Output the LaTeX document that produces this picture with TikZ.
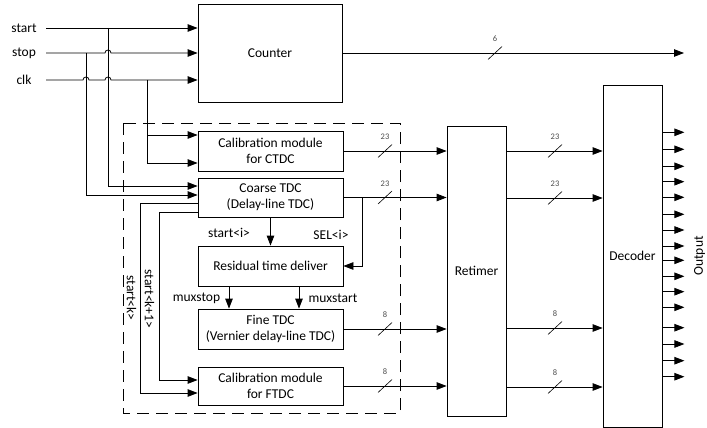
\documentclass[tikz,border=0pt]{standalone}
\usepackage{fontspec}
\setmainfont{Carlito}
\usetikzlibrary{arrows.meta}
\newcommand\busmark[3]{%
  \draw[line width=0.6pt] (#1-7,#2+6.5) -- (#1+7,#2-6.5);
  \node[buslbl] at (#1,#2-14) {#3};}
\begin{document}
\begin{tikzpicture}[x=1pt,y=-1pt,line width=0.8pt,
  blk/.style={draw, inner sep=0pt, align=center, font=\fontsize{13.5}{16}\selectfont},
  lbl/.style={inner sep=0pt, font=\fontsize{13.5}{16}\selectfont},
  buslbl/.style={inner sep=0pt, font=\fontsize{8.5}{10}\selectfont, text=black!70},
  arr/.style={-{Triangle[length=10pt,width=7.5pt]}}]
\useasboundingbox (0,0) rectangle (707,428);

% blocks
\node[blk, minimum width=144pt, minimum height=98pt] (counter) at (270,53) {Counter};
\node[blk, minimum width=145pt, minimum height=40pt] (calc) at (270.5,151) {Calibration module\\for CTDC};
\node[blk, minimum width=145pt, minimum height=39pt] (coarse) at (270.5,197.5) {Coarse TDC\\(Delay-line TDC)};
\node[blk, minimum width=145pt, minimum height=40pt] (resid) at (270.5,266) {Residual time deliver};
\node[blk, minimum width=145pt, minimum height=40pt] (fine) at (270.5,329) {Fine TDC\\(Vernier delay-line TDC)};
\node[blk, minimum width=145pt, minimum height=38pt] (calf) at (270.5,386) {Calibration module\\for FTDC};
\node[blk, minimum width=59pt, minimum height=290pt] (ret) at (476.5,271) {Retimer};
\node[blk, minimum width=59pt, minimum height=342pt] (dec) at (632.5,256) {Decoder};

% dashed enclosure
\draw[dash pattern=on 12pt off 7pt] (123,123) rectangle (400,413);

% input labels
\node[lbl] (lstart) at (24,28) {start};
\node[lbl] (lstop) at (24,53) {stop};
\node[lbl] (lclk) at (24,80) {clk};
\coordinate (s0) at (46,28);
\coordinate (p0) at (46,53);
\coordinate (c0) at (46,80);

% inputs to counter
\draw[arr] (s0) -- (counter.west |- s0);
\draw[arr] (p0) -- (105,53) arc[start angle=180,end angle=360,radius=3] -- (counter.west |- p0);
\draw[arr] (c0) -- (83,80) arc[start angle=180,end angle=360,radius=3]
  -- (105,80) arc[start angle=180,end angle=360,radius=3] -- (counter.west |- c0);

% verticals
\draw[arr] (108,28) -- (108,186) -- (coarse.west |- 0,186);
\draw[arr] (86,53) -- (86,195) -- (coarse.west |- 0,195);
\draw[arr] (147,80) -- (147,163) -- (calc.west |- 0,163);
\draw[arr] (147,135) -- (calc.west |- 0,135);

% start<k>, start<k+1>
\draw[arr] (coarse.west |- 0,203) -- (140,203) |- (calf.west |- 0,393);
\draw[arr] (coarse.west |- 0,212) -- (159,212) |- (calf.west |- 0,380);
\node[lbl, rotate=-90] at (131.5,298) {start<k>};
\node[lbl, rotate=-90] at (149.5,299) {start<k+1>};

% internal
\draw[arr] (coarse.south) -- (resid.north);
\draw[arr] (362,198) |- (resid.east);
\draw[arr] (resid.south -| 229,0) -- (fine.north -| 229,0);
\draw[arr] (resid.south -| 299,0) -- (fine.north -| 299,0);
\node[lbl] at (229,233) {start<i>};
\node[lbl] at (331,235) {SEL<i>};
\node[lbl] at (196.5,298) {muxstop};
\node[lbl] at (333,298) {muxstart};

% counter output
\coordinate (cout) at (684,53);
\draw[arr] (counter.east) -- (cout);
\busmark{495}{53}{6}

% buses to retimer
\draw[arr] (calc.east) -- (ret.west |- calc.east);
\draw[arr] (coarse.east) -- (ret.west |- coarse.east);
\draw[arr] (fine.east) -- (ret.west |- fine.east);
\draw[arr] (calf.east) -- (ret.west |- calf.east);
\busmark{385}{151}{23}
\busmark{385}{197.5}{23}
\busmark{385}{329}{8}
\busmark{385}{386}{8}

% buses to decoder
\draw[arr] (ret.east |- 0,151) -- (dec.west |- 0,151);
\draw[arr] (ret.east |- 0,198) -- (dec.west |- 0,198);
\draw[arr] (ret.east |- 0,328) -- (dec.west |- 0,328);
\draw[arr] (ret.east |- 0,387) -- (dec.west |- 0,387);
\busmark{555}{151}{23}
\busmark{555}{198}{23}
\busmark{555}{328}{8}
\busmark{555}{387}{8}

% decoder outputs
\foreach \y in {132.3,149.3,166.3,181.7,197.3,214.3,230,246,260.3,276.3,291.7,307.3,327.7,344,360.7,376.7}
  \draw[arr] (dec.east |- 0,\y) -- ++(22,0);
\node[lbl, rotate=90] at (699.5,256) {Output};
\end{tikzpicture}
\end{document}
